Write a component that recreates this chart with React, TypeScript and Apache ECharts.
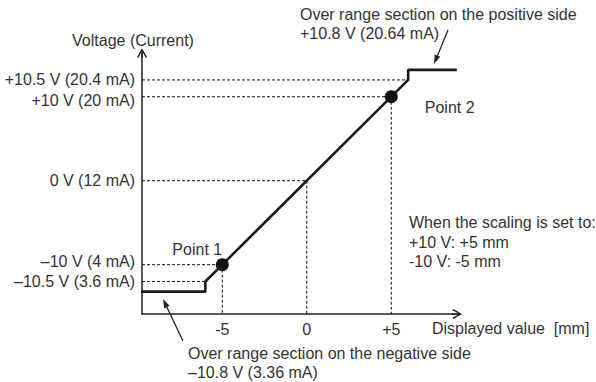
import React, { useEffect, useRef } from 'react';
import * as echarts from 'echarts';

// ---- data ----
const xTickValues = [-5, 0, 5];
const xTickLabels = ['-5', '0', '+5'];
const yLevelVolts = [10.5, 10, 0, -10, -10.5];
const yLevelLabels = ['+10.5 V (20.4 mA)', '+10 V (20 mA)', '0 V (12 mA)', '–10 V (4 mA)', '–10.5 V (3.6 mA)'];
const curveMm = [-6.2, -5.25, -5.25, 5.25, 5.25, 5.97];
const curveVolts = [-10.8, -10.8, -10.5, 10.5, 10.8, 10.8];
const scalingPointMm = [-5, 5];
const scalingPointVolts = [-10, 10];
const scalingPointNames = ['Point 1', 'Point 2'];
const guideHVolts = [10.5, 10, 0, -10, -10.5];
const guideVMm = [-5, 0, 5];

// ---- schematic scale (over-range section drawn enlarged) ----
const BREAK_K = 4;
const dispV = (v: number) => (Math.abs(v) <= 10 ? v : Math.sign(v) * (10 + (Math.abs(v) - 10) * BREAK_K));
const dispMm = (m: number) => (Math.abs(m) <= 5 ? m : Math.sign(m) * (5 + (Math.abs(m) - 5) * BREAK_K));
const voltsToMm = (v: number) => (v * 5) / 10;
const mmToVolts = (m: number) => (m * 10) / 5;

const X_MIN = -9.75;
const X_MAX = 8.89;
const Y_MIN = -15.87;
const Y_MAX = 15.17;

const FONT = "'Liberation Sans', Arial, Helvetica, sans-serif";
const TXT = '#333';
const ARROW = 'path://M5,0 L10,8.6 L8.8,9.6 L5,2.6 L1.2,9.6 L0,8.6 Z M4.3,1.5 L5.7,1.5 L5.7,10 L4.3,10 Z';

function text(t: string, x: number, y: number, align = 'left') {
  return {
    type: 'text',
    x,
    y,
    style: {
      text: t,
      fill: TXT,
      fontSize: 16,
      fontFamily: FONT,
      align,
      verticalAlign: 'middle',
      textAlign: align,
      textVerticalAlign: 'middle',
    },
  };
}

function arrow(x1: number, y1: number, x2: number, y2: number) {
  const dx = x2 - x1;
  const dy = y2 - y1;
  const len = Math.hypot(dx, dy);
  const ux = dx / len;
  const uy = dy / len;
  const L = 9;
  const W = 3;
  const bx = x2 - ux * L;
  const by = y2 - uy * L;
  return [
    { type: 'line', shape: { x1, y1, x2: bx, y2: by }, style: { stroke: '#222', lineWidth: 1.3 } },
    {
      type: 'polygon',
      shape: { points: [[x2, y2], [bx - uy * W, by + ux * W], [bx + uy * W, by - ux * W]] },
      style: { fill: '#222' },
    },
  ];
}

const labelNudge: Record<string, string> = { '10': 'dn', '-10': 'up' };

export default function App() {
  const ref = useRef<HTMLDivElement>(null);
  useEffect(() => {
    if (!ref.current) return;
    const chart = echarts.init(ref.current, null, { renderer: 'svg' });
    const dash = { color: '#111', width: 1, type: [3, 2] as any };
    const guideSeries: any[] = [
      ...guideHVolts.map((v) => ({
        type: 'line',
        data: [
          [X_MIN, dispV(v)],
          [dispMm(voltsToMm(v)), dispV(v)],
        ],
        symbol: 'none',
        lineStyle: dash,
        z: 1,
        silent: true,
      })),
      ...guideVMm.map((m) => ({
        type: 'line',
        data: [
          [dispMm(m), dispV(mmToVolts(m))],
          [dispMm(m), Y_MIN],
        ],
        symbol: 'none',
        lineStyle: dash,
        z: 1,
        silent: true,
      })),
    ];
    const pointLabel: any[] = [
      { position: 'top', distance: 5, offset: [-25, 4.5] },
      { position: 'right', distance: 27, offset: [0, 11] },
    ];
    chart.setOption({
      animation: false,
      grid: { left: 142, top: 53.3, width: 315, height: 260.7 },
      xAxis: {
        type: 'value',
        min: X_MIN,
        max: X_MAX,
        axisLine: {
          onZero: false,
          symbol: ['none', ARROW],
          symbolSize: [10, 10],
          lineStyle: { color: '#222', width: 1.5 },
        },
        axisTick: { show: false },
        splitLine: { show: false },
        axisLabel: {
          customValues: xTickValues.map(dispMm),
          formatter: (val: number) => {
            const i = xTickValues.findIndex((t) => Math.abs(dispMm(t) - val) < 1e-6);
            return i >= 0 ? xTickLabels[i] : '';
          },
          margin: 7,
          fontSize: 16,
          color: TXT,
          fontFamily: FONT,
        },
      },
      yAxis: {
        type: 'value',
        min: Y_MIN,
        max: Y_MAX,
        axisLine: {
          onZero: false,
          symbol: ['none', ARROW],
          symbolSize: [10, 10],
          lineStyle: { color: '#222', width: 1.5 },
        },
        axisTick: { show: false },
        splitLine: { show: false },
        axisLabel: {
          customValues: yLevelVolts.map(dispV),
          formatter: (val: number) => {
            const i = yLevelVolts.findIndex((t) => Math.abs(dispV(t) - val) < 1e-6);
            if (i < 0) return '';
            const s = labelNudge[String(yLevelVolts[i])] || 'n';
            return `{${s}|${yLevelLabels[i]}}`;
          },
          margin: 7,
          fontSize: 16,
          color: TXT,
          fontFamily: FONT,
          rich: {
            n: { fontSize: 16, color: TXT, fontFamily: FONT },
            dn: { fontSize: 16, color: TXT, fontFamily: FONT, padding: [7, 0, 0, 0] },
            up: { fontSize: 16, color: TXT, fontFamily: FONT, padding: [0, 0, 7, 0] },
          },
        },
      },
      series: [
        ...guideSeries,
        {
          type: 'line',
          data: curveMm.map((m, i) => [dispMm(m), dispV(curveVolts[i])]),
          symbol: 'none',
          lineStyle: { color: '#1a1a1a', width: 2.6 },
          z: 3,
          silent: true,
        },
        {
          type: 'scatter',
          data: scalingPointMm.map((m, i) => ({
            name: scalingPointNames[i],
            value: [dispMm(m), dispV(scalingPointVolts[i])],
            label: {
              show: true,
              formatter: '{b}',
              fontSize: 16,
              color: TXT,
              fontFamily: FONT,
              ...pointLabel[i],
            },
          })),
          symbolSize: 13,
          itemStyle: { color: '#111', opacity: 1 },
          z: 4,
          silent: true,
        },
      ],
      graphic: [
        text('Voltage (Current)', 133, 40, 'center'),
        text('Over range section on the positive side', 300, 14),
        text('+10.8 V (20.64 mA)', 300, 33),
        ...arrow(448, 30, 434, 64),
        text('When the scaling is set to:', 409, 222),
        text('+10 V: +5 mm', 409, 242),
        text('-10 V: -5 mm', 409, 261),
        text('Displayed value  [mm]', 432, 328),
        text('Over range section on the negative side', 188, 353),
        text('–10.8 V (3.36 mA)', 188, 372),
        ...arrow(183, 341, 163, 299),
      ],
    });
    return () => chart.dispose();
  }, []);
  return <div ref={ref} style={{ width: 596, height: 382, position: 'absolute', left: 0, top: 0 }} />;
}
